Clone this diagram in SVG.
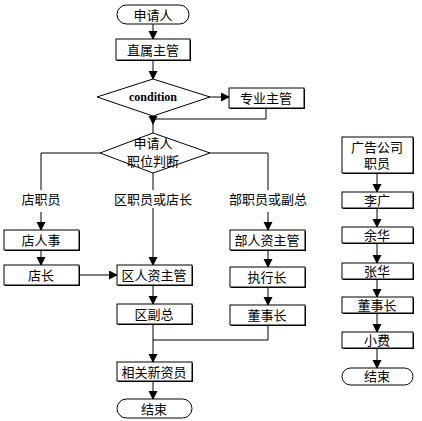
<svg xmlns="http://www.w3.org/2000/svg" width="422" height="421" viewBox="0 0 422 421">
<defs>
<marker id="ah" markerUnits="userSpaceOnUse" markerWidth="10" markerHeight="10" refX="8" refY="4.5" orient="auto" viewBox="0 0 10 10">
<path d="M0,0 L9,4.5 L0,9 z" fill="#000" stroke="none"/>
</marker>
<style>
.box{fill:#fff;stroke:#000;stroke-width:1}
.sh{fill:#000}
.t{font-family:"Liberation Sans","Noto Sans CJK SC",sans-serif;font-size:13px;fill:#000;text-anchor:middle}
.c{font-family:"Liberation Serif",serif;font-size:12px;font-weight:bold;fill:#000;text-anchor:middle}
.ln{fill:none;stroke:#000;stroke-width:1}
</style>
</defs>
<rect width="422" height="421" fill="#fff"/>
<g id="connectors">
<path class="ln" d="M153,24 V39" marker-end="url(#ah)"/>
<path class="ln" d="M153,60 V79" marker-end="url(#ah)"/>
<path class="ln" d="M210,97 H229" marker-end="url(#ah)"/>
<path class="ln" d="M266,108 V119 H153"/>
<path class="ln" d="M153,116 V124" marker-end="url(#ah)"/>
<path class="ln" d="M153,124 V133"/>
<path class="ln" d="M100,153 H41 V190"/>
<path class="ln" d="M41,212 V230" marker-end="url(#ah)"/>
<path class="ln" d="M153,173 V190"/>
<path class="ln" d="M153,208 V265" marker-end="url(#ah)"/>
<path class="ln" d="M210,153 H268 V190"/>
<path class="ln" d="M268,212 V230" marker-end="url(#ah)"/>
<path class="ln" d="M41,250 V265" marker-end="url(#ah)"/>
<path class="ln" d="M79,275 H117" marker-end="url(#ah)"/>
<path class="ln" d="M153,285 V304" marker-end="url(#ah)"/>
<path class="ln" d="M268,250 V267" marker-end="url(#ah)"/>
<path class="ln" d="M268,287 V305" marker-end="url(#ah)"/>
<path class="ln" d="M268,325 V340 H153"/>
<path class="ln" d="M153,324 V362" marker-end="url(#ah)"/>
<path class="ln" d="M153,381 V399" marker-end="url(#ah)"/>
<path class="ln" d="M377,173 V192" marker-end="url(#ah)"/>
<path class="ln" d="M377,208 V227" marker-end="url(#ah)"/>
<path class="ln" d="M377,243 V263" marker-end="url(#ah)"/>
<path class="ln" d="M377,279 V297" marker-end="url(#ah)"/>
<path class="ln" d="M377,313 V332" marker-end="url(#ah)"/>
<path class="ln" d="M377,348 V368" marker-end="url(#ah)"/>
</g>
<g id="n-start">
<rect x="117" y="5" width="72" height="19" rx="9.5" class="box"/>
<text x="153" y="19.5" class="t">申请人</text>
</g>
<g id="n-zhishu">
<rect x="117" y="40" width="74" height="21" class="sh"/>
<rect x="116" y="39" width="74" height="21" class="box"/>
<text x="153" y="54.5" class="t">直属主管</text>
</g>
<g id="n-condition">
<polygon points="153,79 210,97 153,116 97,97" class="box"/>
<text x="153" y="101" class="c">condition</text>
</g>
<g id="n-zhuanye">
<rect x="230" y="89" width="75" height="20" class="sh"/>
<rect x="229" y="88" width="75" height="20" class="box"/>
<text x="266" y="103" class="t">专业主管</text>
</g>
<g id="n-judge">
<polygon points="153,133 210,153 153,173 100,153" class="box"/>
<text x="153" y="148" class="t">申请人</text>
<text x="153" y="166" class="t">职位判断</text>
</g>
<g id="labels">
<text x="41" y="204" class="t">店职员</text>
<text x="153" y="204" class="t">区职员或店长</text>
<text x="268" y="204" class="t">部职员或副总</text>
</g>
<g id="n-dianrenshi">
<rect x="5" y="231" width="75" height="20" class="sh"/>
<rect x="4" y="230" width="75" height="20" class="box"/>
<text x="41" y="245" class="t">店人事</text>
</g>
<g id="n-dianzhang">
<rect x="5" y="266" width="75" height="20" class="sh"/>
<rect x="4" y="265" width="75" height="20" class="box"/>
<text x="41" y="280" class="t">店长</text>
</g>
<g id="n-qurenzi">
<rect x="118" y="266" width="75" height="20" class="sh"/>
<rect x="117" y="265" width="75" height="20" class="box"/>
<text x="154" y="280" class="t">区人资主管</text>
</g>
<g id="n-qufuzong">
<rect x="118" y="305" width="75" height="20" class="sh"/>
<rect x="117" y="304" width="75" height="20" class="box"/>
<text x="154" y="319" class="t">区副总</text>
</g>
<g id="n-burenzi">
<rect x="231" y="231" width="75" height="20" class="sh"/>
<rect x="230" y="230" width="75" height="20" class="box"/>
<text x="267" y="245" class="t">部人资主管</text>
</g>
<g id="n-zhixing">
<rect x="231" y="268" width="75" height="20" class="sh"/>
<rect x="230" y="267" width="75" height="20" class="box"/>
<text x="267" y="282" class="t">执行长</text>
</g>
<g id="n-dongshi">
<rect x="231" y="306" width="75" height="20" class="sh"/>
<rect x="230" y="305" width="75" height="20" class="box"/>
<text x="267" y="320" class="t">董事长</text>
</g>
<g id="n-xinzi">
<rect x="118" y="363" width="75" height="19" class="sh"/>
<rect x="117" y="362" width="75" height="19" class="box"/>
<text x="154" y="376.5" class="t">相关新资员</text>
</g>
<g id="n-end">
<rect x="117" y="399" width="75" height="19" rx="9.5" class="box"/>
<text x="154" y="413.5" class="t">结束</text>
</g>
<g id="n-guanggao">
<rect x="343" y="138" width="71" height="36" class="sh"/>
<rect x="342" y="137" width="71" height="36" class="box"/>
<text x="377" y="152" class="t">广告公司</text>
<text x="377" y="168" class="t">职员</text>
</g>
<g id="n-liguang">
<rect x="343" y="193" width="71" height="16" class="sh"/>
<rect x="342" y="192" width="71" height="16" class="box"/>
<text x="377" y="205" class="t">李广</text>
</g>
<g id="n-yuhua">
<rect x="343" y="228" width="71" height="16" class="sh"/>
<rect x="342" y="227" width="71" height="16" class="box"/>
<text x="377" y="240" class="t">余华</text>
</g>
<g id="n-zhanghua">
<rect x="343" y="264" width="71" height="16" class="sh"/>
<rect x="342" y="263" width="71" height="16" class="box"/>
<text x="377" y="276" class="t">张华</text>
</g>
<g id="n-dongshi2">
<rect x="343" y="298" width="71" height="16" class="sh"/>
<rect x="342" y="297" width="71" height="16" class="box"/>
<text x="377" y="310" class="t">董事长</text>
</g>
<g id="n-xiaofei">
<rect x="343" y="333" width="71" height="16" class="sh"/>
<rect x="342" y="332" width="71" height="16" class="box"/>
<text x="377" y="345" class="t">小费</text>
</g>
<g id="n-end2">
<rect x="342" y="368" width="71" height="17" rx="8.5" class="box"/>
<text x="377" y="381" class="t">结束</text>
</g>
</svg>
